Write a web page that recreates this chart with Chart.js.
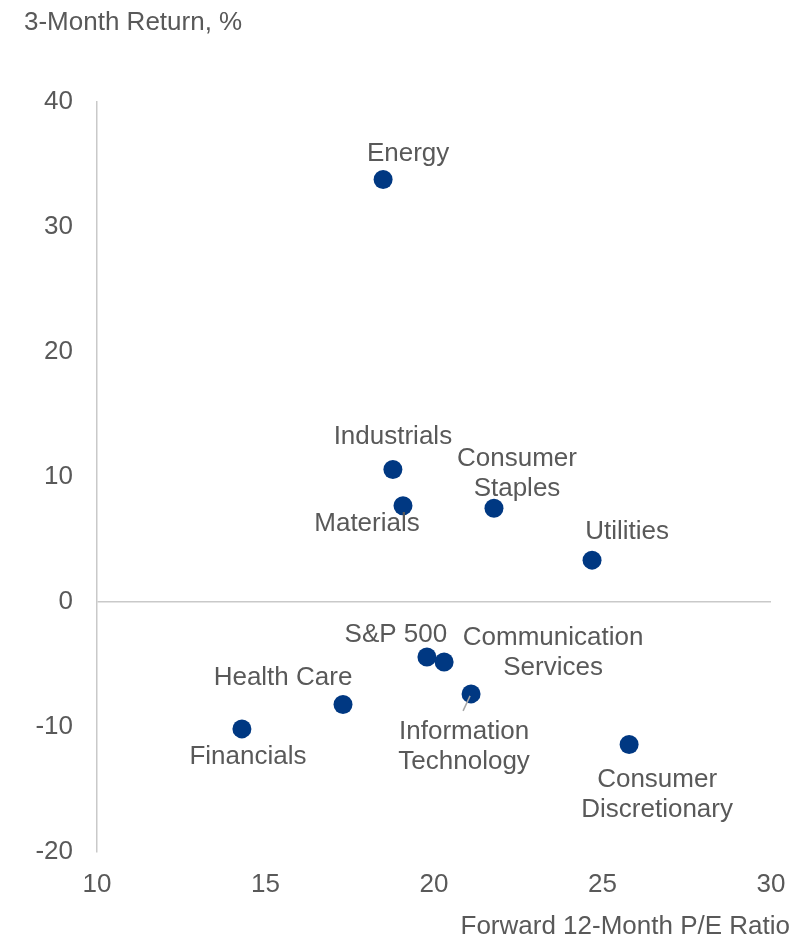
<!DOCTYPE html>
<html>
<head>
<meta charset="utf-8">
<script src="https://cdn.jsdelivr.net/npm/chart.js@4.4.1/dist/chart.umd.min.js"></script>
<style>
  html, body { margin: 0; padding: 0; background: #ffffff; }
  #wrap { width: 790px; height: 940px; }
</style>
</head>
<body>
<div id="wrap"><canvas id="c" width="790" height="940"></canvas></div>
<script>
// ---- Data ----
const sectors = [
  ["Energy"],
  ["Industrials"],
  ["Materials"],
  ["Consumer", "Staples"],
  ["Utilities"],
  ["S&P 500"],
  ["Communication", "Services"],
  ["Information", "Technology"],
  ["Health Care"],
  ["Financials"],
  ["Consumer", "Discretionary"]
];
const forwardPE = [18.49, 18.78, 19.08, 21.78, 24.69, 19.79, 20.30, 21.10, 17.30, 14.30, 25.79];
const threeMonthReturn = [33.8, 10.6, 7.7, 7.5, 3.35, -4.4, -4.8, -7.35, -8.2, -10.15, -11.4];
const xTicks = [10, 15, 20, 25, 30];
const yTicks = [-20, -10, 0, 10, 20, 30, 40];
const yTitle = "3-Month Return, %";
const xTitle = "Forward 12-Month P/E Ratio";

// ---- Label placement (pixel offsets from each point, style only) ----
const labelOffsets = [
  [25, -26], [0, -33], [-36, 18], [23, -34], [35, -28], [-31, -22],
  [109, -9], [-7, 53], [-60, -27], [6, 28], [28, 50]
];

const TEXT = "#595959";
const FONT = "'Liberation Sans', Arial, sans-serif";
const POINT = "#003882";
const LINE = "#c9c9c9";

const points = forwardPE.map((x, i) => ({ x: x, y: threeMonthReturn[i] }));

const overlay = {
  id: "overlay",
  afterDatasetsDraw(chart) {
    const ctx = chart.ctx;
    const meta = chart.getDatasetMeta(0);
    ctx.save();
    ctx.font = "26px " + FONT;
    ctx.fillStyle = TEXT;
    ctx.textAlign = "center";
    ctx.textBaseline = "middle";
    const lh = 30;
    meta.data.forEach((el, i) => {
      const lines = sectors[i];
      const cx = el.x + labelOffsets[i][0];
      const cy = el.y + labelOffsets[i][1];
      const start = cy - (lines.length - 1) * lh / 2;
      lines.forEach((t, k) => ctx.fillText(t, cx, start + k * lh));
    });
    // leader line for Information Technology
    const it = meta.data[7];
    ctx.strokeStyle = "#a6a6a6";
    ctx.lineWidth = 1.5;
    ctx.beginPath();
    ctx.moveTo(it.x - 1, it.y + 2);
    ctx.lineTo(it.x - 8, it.y + 17);
    ctx.stroke();
    // axis titles
    ctx.textAlign = "left";
    ctx.fillText(yTitle, 24, 23);
    ctx.textAlign = "right";
    ctx.fillText(xTitle, 790, 927);
    ctx.restore();
  }
};

new Chart(document.getElementById("c"), {
  type: "scatter",
  data: {
    datasets: [{
      data: points,
      backgroundColor: POINT,
      borderColor: POINT,
      pointRadius: 9.5,
      pointHoverRadius: 9.5,
      borderWidth: 0
    }]
  },
  options: {
    responsive: false,
    animation: false,
    devicePixelRatio: 1,
    layout: { padding: { left: 0, top: 102, right: 19, bottom: 0 } },
    plugins: { legend: { display: false }, tooltip: { enabled: false } },
    scales: {
      x: {
        type: "linear",
        min: 10, max: 30,
        afterFit(s) { s.height = 88; s.paddingRight = 0; s.paddingLeft = 0; },
        afterBuildTicks(s) { s.ticks = xTicks.map(v => ({ value: v })); },
        grid: { display: false, drawTicks: false },
        border: { display: false },
        ticks: { color: TEXT, font: { family: FONT, size: 26 }, padding: 17, maxRotation: 0 }
      },
      y: {
        type: "linear",
        min: -20, max: 40,
        afterFit(s) { s.width = 97; s.paddingTop = 0; s.paddingBottom = 0; },
        afterBuildTicks(s) { s.ticks = yTicks.map(v => ({ value: v })); },
        grid: {
          drawTicks: false,
          lineWidth: 1.5,
          color: (c) => (c.tick && c.tick.value === 0) ? LINE : "rgba(0,0,0,0)"
        },
        border: { display: true, color: LINE, width: 1.5 },
        ticks: { color: TEXT, font: { family: FONT, size: 26 }, padding: 24 }
      }
    }
  },
  plugins: [overlay]
});
</script>
</body>
</html>
